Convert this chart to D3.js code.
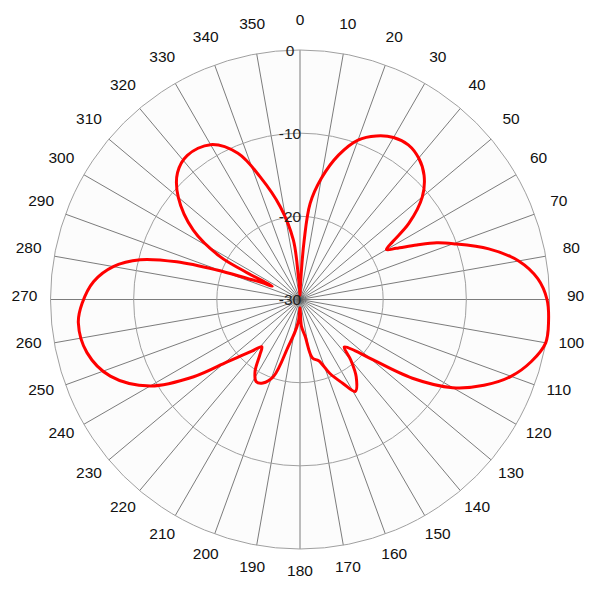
<!DOCTYPE html>
<html>
<head>
<meta charset="utf-8">
<script src="https://cdn.jsdelivr.net/npm/d3@7"></script>
<style>
  html, body { margin: 0; padding: 0; background: #ffffff; }
  svg { display: block; }
</style>
</head>
<body>
<svg id="chart" width="600" height="600"></svg>
<script>
// ---- data ----
const angleTicks = d3.range(0, 360, 10);          // radial grid / labels (degrees)
const ringValues = [0, -10, -20, -30];             // dB rings
const ringLabels = ["0", "-10", "-20", "-30"];

const patternAngles = [
  0, 2, 4, 6, 10, 15, 20, 25, 30, 35, 40, 45, 50, 55, 58, 60, 62, 65, 67.5, 70,
  75, 80, 85, 90, 95, 100, 105, 110, 115, 120, 125, 130, 133, 137, 140, 144, 149,
  153, 158, 163, 168, 172, 177, 180, 184, 189, 194, 199, 204, 208, 212, 216, 219,
  223, 226.5, 229.5, 234, 240, 248, 256, 264, 269, 275, 280, 284, 287, 289.5, 291.7,
  294, 295.5, 297, 298.2, 303, 310, 316, 322, 330, 337, 342, 348, 353.6, 356, 358
];
const patternValues = [
  -29.5, -28, -23, -18.4, -15.2, -12, -9.6, -8.3, -7.5, -7.3, -7.8, -8.9, -10.8, -14, -16.8, -18, -16.9, -14.5, -12.2, -10.4,
  -6.5, -3.3, -1.3, -0.3, 0, 0, -1.2, -3, -5.6, -8.8, -13.5, -19, -21, -22.2, -20.5, -18.5, -17.1,
  -18.7, -20.4, -22.3, -22.8, -25.5, -26.8, -29, -27.4, -26, -24.2, -20.2, -19, -18.8, -19.8, -21.8, -22.7,
  -21.5, -20.1, -18.4, -14.2, -9.2, -5.4, -3.6, -3.2, -3.8, -5.1, -7.2, -10.2, -14.5, -19.4, -23.1,
  -25, -26.3, -22.5, -19.1, -14.7, -10.9, -8.8, -8.0, -8.5, -10.9, -14.5, -18.6, -22.8, -27.3, -29
];

// ---- layout ----
const cx = 300, cy = 299.5, R = 249.5;
const svg = d3.select("#chart");
const g = svg.append("g").attr("transform", `translate(${cx},${cy})`);

const r = d3.scaleLinear().domain([-30, 0]).range([0, R]);
const toRad = d => d * Math.PI / 180;

// disk background
g.append("circle").attr("r", R).attr("fill", "#fcfcfc").attr("stroke", "none");

// radial lines
g.selectAll("line.spoke").data(angleTicks).join("line")
  .attr("class", "spoke")
  .attr("x1", 0).attr("y1", 0)
  .attr("x2", d => r(0) * Math.sin(toRad(d)))
  .attr("y2", d => -r(0) * Math.cos(toRad(d)))
  .attr("stroke", "#5a5a5a").attr("stroke-width", 0.8);

// rings
g.selectAll("circle.ring").data(ringValues.filter(v => v > -30)).join("circle")
  .attr("class", "ring")
  .attr("r", d => r(d))
  .attr("fill", "none")
  .attr("stroke", "#a0a0a0").attr("stroke-width", 1);

// pattern
const pts = patternAngles.map((a, i) => [toRad(a), r(patternValues[i])]);
const line = d3.lineRadial()
  .angle(d => d[0]).radius(d => d[1])
  .curve(d3.curveCatmullRomClosed.alpha(0.5));
g.append("path").datum(pts)
  .attr("d", line)
  .attr("fill", "none")
  .attr("stroke", "#ff0000").attr("stroke-width", 3)
  .attr("stroke-linejoin", "round");

// ring labels
g.selectAll("text.ringlab").data(ringValues).join("text")
  .attr("class", "ringlab")
  .attr("x", -10)
  .attr("y", d => -r(d))
  .attr("dy", "0.36em")
  .attr("text-anchor", "middle")
  .attr("font-family", "Liberation Sans, Arial, sans-serif")
  .attr("font-size", 15.5)
  .attr("fill", "#222")
  .text((d, i) => ringLabels[i]);

// angle labels
const labR = R + 26;
g.selectAll("text.anglab").data(angleTicks).join("text")
  .attr("class", "anglab")
  .attr("x", d => labR * Math.sin(toRad(d)))
  .attr("y", d => -labR * Math.cos(toRad(d)) - 4.5)
  .attr("dy", "0.36em")
  .attr("text-anchor", "middle")
  .attr("font-family", "Liberation Sans, Arial, sans-serif")
  .attr("font-size", 15.5)
  .attr("fill", "#111")
  .text(d => d);
</script>
</body>
</html>
